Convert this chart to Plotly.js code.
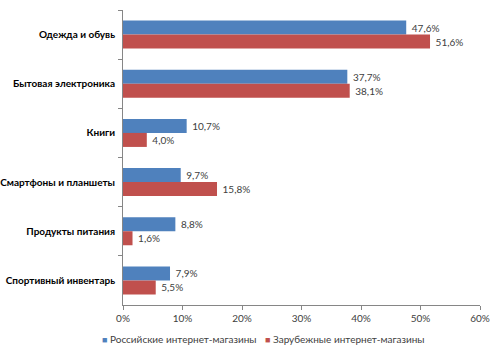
<!DOCTYPE html>
<html><head><meta charset="utf-8">
<script src="https://cdn.plot.ly/plotly-3.0.1.min.js"></script>
<style>html,body{margin:0;padding:0;background:#fff}#c{width:500px;height:352px}</style>
</head><body><div id="c"></div>
<script>
const categories = ["Одежда и обувь","Бытовая электроника","Книги","Смартфоны и планшеты","Продукты питания","Спортивный инвентарь"];
const russian = [47.6, 37.7, 10.7, 9.7, 8.8, 7.9];
const foreign = [51.6, 38.1, 4.0, 15.8, 1.6, 5.5];
const seriesNames = ["Российские интернет-магазины","Зарубежные интернет-магазины"];
const xTicks = [0,10,20,30,40,50,60];
const colors = ["#4F81BD","#C0504D"];
const font = "Lato, 'Open Sans', sans-serif";

const bar = (vals, name, color) => ({
  type: "bar", orientation: "h", y: categories, x: vals, name: name,
  marker: {color: color}, showlegend: false,
  texttemplate: "\u00a0%{x:.1f}%", textposition: "outside", cliponaxis: false,
  textfont: {family: font, size: 10, color: "#404040"}, hoverinfo: "skip"
});
const data = [
  bar(russian, seriesNames[0], colors[0]),
  bar(foreign, seriesNames[1], colors[1])
];
const legendX = [-0.064, 0.392];
const annotations = seriesNames.map((n, i) => ({
  xref: "paper", yref: "paper", x: legendX[i], y: -0.116,
  xanchor: "left", yanchor: "middle", showarrow: false,
  text: '<span style="color:' + colors[i] + ';font-size:9px">■</span> ' + n,
  font: {family: font, size: 10, color: "#404040"}
}));
const layout = {
  width: 500, height: 352,
  margin: {l: 123, r: 20, t: 10, b: 47},
  paper_bgcolor: "#fff", plot_bgcolor: "#fff",
  separators: ", ",
  barmode: "group", bargap: 0.43, bargroupgap: 0,
  font: {family: font, size: 10, color: "#404040"},
  showlegend: false,
  annotations: annotations,
  xaxis: {
    range: [0, 60], tickvals: xTicks, ticktext: xTicks.map(v => v + "%"),
    showgrid: false, zeroline: false, showline: true, linecolor: "#868686", linewidth: 1,
    ticks: "outside", ticklen: 4, tickcolor: "#868686",
    tickfont: {family: font, size: 10, color: "#404040"}, fixedrange: true
  },
  yaxis: {
    type: "category", autorange: "reversed", showgrid: false, zeroline: false,
    showline: true, linecolor: "#868686", linewidth: 1,
    ticks: "outside", ticklen: 4, tickcolor: "#868686", tickson: "boundaries",
    ticklabelstandoff: 5,
    tickfont: {family: font, size: 10, color: "#000", weight: "bold"}, fixedrange: true
  }
};
Plotly.newPlot("c", data, layout, {displayModeBar: false, staticPlot: true});
</script></body></html>
